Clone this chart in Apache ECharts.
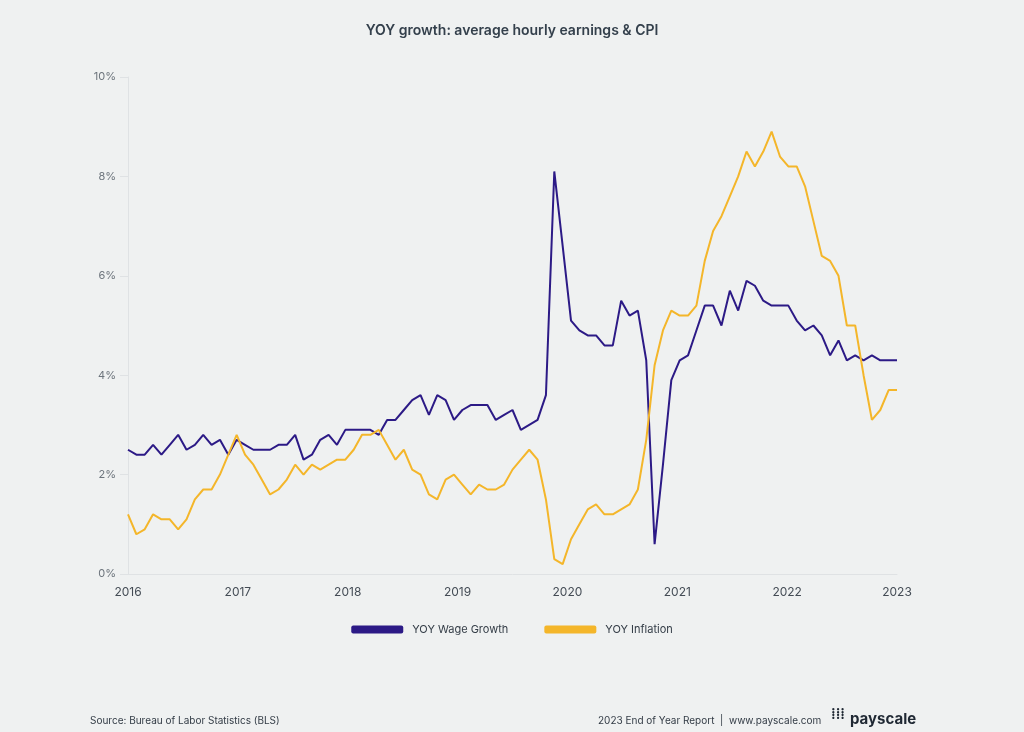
<!DOCTYPE html>
<html>
<head>
<meta charset="utf-8">
<script src="https://cdn.jsdelivr.net/npm/echarts@6/dist/echarts.min.js"></script>
<style>html,body{margin:0;background:#eff1f1;}#main{width:1024px;height:732px;}</style>
</head>
<body>
<div id="main"></div>
<script>
// monthly points, Jan 2016 .. 2023
var wage = [2.5,2.4,2.4,2.6,2.4,2.6,2.8,2.5,2.6,2.8,2.6,2.7,2.4,2.7,2.6,2.5,2.5,2.5,2.6,2.6,2.8,2.3,2.4,2.7,2.8,2.6,
  2.9,2.9,2.9,2.9,2.8,3.1,3.1,3.3,3.5,3.6,3.2,3.6,3.5,3.1,3.3,3.4,3.4,3.4,3.1,3.2,3.3,2.9,3.0,3.1,3.6,
  8.1,6.6,5.1,4.9,4.8,4.8,4.6,4.6,5.5,5.2,5.3,4.3,0.6,2.2,3.9,4.3,4.4,4.9,5.4,5.4,5.0,5.7,5.3,5.9,5.8,5.5,
  5.4,5.4,5.4,5.1,4.9,5.0,4.8,4.4,4.7,4.3,4.4,4.3,4.4,4.3,4.3,4.3];
var inflation = [1.2,0.8,0.9,1.2,1.1,1.1,0.9,1.1,1.5,1.7,1.7,2.0,2.4,2.8,2.4,2.2,1.9,1.6,1.7,1.9,2.2,2.0,2.2,2.1,2.2,2.3,
  2.3,2.5,2.8,2.8,2.9,2.6,2.3,2.5,2.1,2.0,1.6,1.5,1.9,2.0,1.8,1.6,1.8,1.7,1.7,1.8,2.1,2.3,2.5,2.3,1.5,
  0.3,0.2,0.7,1.0,1.3,1.4,1.2,1.2,1.3,1.4,1.7,2.7,4.2,4.9,5.3,5.2,5.2,5.4,6.3,6.9,7.2,7.6,8.0,8.5,8.2,8.5,
  8.9,8.4,8.2,8.2,7.8,7.1,6.4,6.3,6.0,5.0,5.0,4.0,3.1,3.3,3.7,3.7];
var startYear = 2016, years = 7;

var n = wage.length - 1;
var step = n / years;
function pairs(arr){ return arr.map(function(v,i){ return [i, v]; }); }

var myChart = echarts.init(document.getElementById('main'));
var option = {
    backgroundColor: '#eff1f1',
    title: {
        text: 'YOY growth: average hourly earnings & CPI',
        left: 'center', top: 19,
        textStyle: {fontFamily: 'Inter', fontSize: 14, fontWeight: 600, color: '#34404c'}
    },
    legend: {
        bottom: 92, itemGap: 36, itemWidth: 52, itemHeight: 8,
        icon: 'roundRect',
        textStyle: {fontFamily: 'Inter', fontSize: 11, color: '#333c46', padding: [0,0,0,4]},
        data: ['YOY Wage Growth', 'YOY Inflation']
    },
    grid: {left: 128, right: 127, top: 77, bottom: 158},
    xAxis: {
        type: 'value', min: 0, max: n, interval: step,
        axisLine: {lineStyle: {color: '#dfe2e4'}},
        axisTick: {show: false},
        splitLine: {show: false},
        axisLabel: {color: '#444c55', fontFamily: 'Inter', fontSize: 12, margin: 12,
            formatter: function(v){ return Math.round(startYear + v / step); }}
    },
    yAxis: {
        type: 'value', min: 0, max: 10, interval: 2,
        axisLine: {show: true, lineStyle: {color: '#dfe2e4'}},
        axisTick: {show: true, length: 8, inside: false, lineStyle: {color: '#dfe2e4'}},
        splitLine: {show: false},
        axisLabel: {color: '#6c747c', fontFamily: 'Inter', fontSize: 11, margin: 12, formatter: '{value}%'}
    },
    series: [
        {name: 'YOY Wage Growth', type: 'line', data: pairs(wage), symbol: 'none',
         lineStyle: {width: 2, color: '#2c1a86'}, itemStyle: {color: '#2c1a86'}},
        {name: 'YOY Inflation', type: 'line', data: pairs(inflation), symbol: 'none',
         lineStyle: {width: 2, color: '#f4b62a'}, itemStyle: {color: '#f4b62a'}}
    ],
    graphic: [
        {type: 'text', left: 90, top: 716, style: {text: 'Source: Bureau of Labor Statistics (BLS)', font: '10px Inter', fill: '#333c46'}},
        {type: 'text', left: 598, top: 716, style: {text: '2023 End of Year Report  |  www.payscale.com', font: '10px Inter', fill: '#333c46'}},
        {type: 'text', left: 850, top: 712, style: {text: 'payscale', font: 'bold 15px Inter', fill: '#1f2833'}},
        {type: 'text', left: 831, top: 707, style: {text: '⁞⁞⁞', font: 'bold 14px Inter', fill: '#1f2833'}}
    ]
};
myChart.setOption(option);
</script>
</body>
</html>
